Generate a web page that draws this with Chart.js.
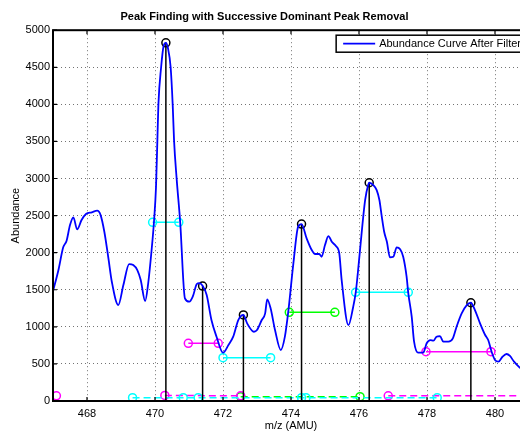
<!DOCTYPE html>
<html>
<head>
<meta charset="utf-8">
<script src="https://cdn.jsdelivr.net/npm/chart.js@4/dist/chart.umd.min.js"></script>
<style>
    html, body { margin: 0; padding: 0; background: #fff; overflow: hidden; }
    #wrap { position: relative; width: 540px; height: 431px; }
</style>
</head>
<body>
<div id="wrap"><canvas id="peakChart"></canvas></div>
<script>
// --- DATA ---
const mz = [467.00, 467.16, 467.30, 467.40, 467.50, 467.60, 467.71, 467.84, 467.97, 468.14,
            468.30, 468.40, 468.51, 468.63, 468.73, 468.92, 469.07, 469.24, 469.36, 469.48,
            469.58, 469.71, 469.80, 469.90, 469.97, 470.03, 470.07, 470.10, 470.18, 470.25,
            470.32, 470.38, 470.46, 470.52, 470.56, 470.64, 470.74, 470.88, 471.01, 471.11,
            471.23, 471.30, 471.40, 471.52, 471.66, 471.81, 472.00, 472.16, 472.30, 472.45,
            472.60, 472.71, 472.91, 473.00, 473.14, 473.24, 473.30, 473.40, 473.53, 473.70,
            473.82, 473.92, 474.07, 474.21, 474.31, 474.46, 474.61, 474.71, 474.83, 474.90,
            475.00, 475.10, 475.20, 475.32, 475.42, 475.49, 475.69, 475.83, 475.90, 475.96,
            476.03, 476.18, 476.27, 476.30, 476.42, 476.52, 476.60, 476.67, 476.74, 476.82,
            476.91, 477.01, 477.11, 477.21, 477.30, 477.40, 477.45, 477.55, 477.62, 477.74,
            477.89, 477.99, 478.10, 478.19, 478.28, 478.38, 478.48, 478.63, 478.76, 478.87,
            479.02, 479.17, 479.29, 479.41, 479.56, 479.71, 479.80, 479.90, 480.00, 480.10,
            480.22, 480.34, 480.44, 480.56, 480.72, 481.00];
const abundance = [1480, 1766, 2072, 2161, 2372, 2476, 2314, 2440, 2521, 2544,
                   2566, 2507, 2282, 1923, 1608, 1294, 1564, 1847, 1833, 1766,
                   1631, 1348, 1587, 2036, 2417, 2889, 3518, 4000, 4500, 4780,
                   4830, 4760, 4500, 4000, 3518, 2979, 2417, 1384, 1339, 1406,
                   1577, 1590, 1555, 1429, 1092, 867, 651, 755, 867, 1092,
                   1160, 1047, 934, 957, 1092, 1182, 1371, 1250, 957, 687,
                   867, 1204, 1856, 2350, 2386, 2193, 2036, 1982, 1982, 1945,
                   2103, 2224, 2147, 2089, 1991, 1631, 1024, 1271, 1450, 1700,
                   2036, 2710, 2912, 2943, 2912, 2844, 2710, 2485, 2282, 2147,
                   1937, 1945, 2072, 2045, 1945, 1676, 1452, 1137, 800, 651,
                   651, 778, 822, 813, 867, 876, 800, 800, 845, 1002,
                   1182, 1294, 1325, 1227, 1047, 890, 822, 665, 553, 530,
                   597, 634, 607, 530, 454, 350];

// dominant peaks (black stems)
const peakMz = [470.32, 471.40, 472.60, 474.31, 476.30, 479.29];
const peakAbundance = [4830, 1550, 1160, 2386, 2943, 1325];

// half-height width segments
const widthLeft  = [469.93, 470.98, 472.00, 473.95, 475.90, 477.97];
const widthRight = [470.70, 471.86, 473.40, 475.29, 477.45, 479.88];
const widthLevel = [2410, 778, 584, 1196, 1465, 665];

// baseline segments near zero (null = gap)
const cyanBaseMz = [469.34, 470.83, 471.27, 474.31, 474.44, 478.30];
const cyanBaseLevel = [45, 45, 45, 45, 45, 45];
const magentaBaseMz = [467.10, null, 470.29, 472.52, null, 476.86, 481.00];
const magentaBaseLevel = [70, null, 75, 70, null, 70, 70];
const greenBaseMz = [472.52, 476.03];
const greenBaseLevel = [58, 58];

const xTickValues = [468, 470, 472, 474, 476, 478, 480];

// --- STYLES ---
const FONT = "'Liberation Sans', Arial, Helvetica, sans-serif";
const BLUE = '#0000ff', CYAN = '#00ffff', MAGENTA = '#ff00ff', GREEN = '#00ff00';
const widthPalette = [CYAN, MAGENTA, CYAN, GREEN, CYAN, MAGENTA];

Chart.defaults.font.family = FONT;
Chart.defaults.font.size = 11;
Chart.defaults.color = '#000';

const toPoints = (xs, ys) => xs.map((x, i) => ({ x: x === null ? xs[i - 1] : x, y: ys[i] }));

const hollow = (color) => ({
    borderColor: color,
    pointBorderColor: color,
    pointBackgroundColor: 'rgba(0,0,0,0)',
    pointRadius: 4,
    pointBorderWidth: 1.5,
    pointHoverRadius: 4
});

const datasets = [];

// A. abundance curve
datasets.push({
    label: 'Abundance Curve After Filter',
    data: toPoints(mz, abundance),
    borderColor: BLUE,
    borderWidth: 1.8,
    pointRadius: 0,
    cubicInterpolationMode: 'monotone'
});

// B. stems from 0 up to each peak
const stemPoints = [];
peakMz.forEach((p, i) => {
    stemPoints.push({ x: p, y: 0 }, { x: p, y: peakAbundance[i] }, { x: p, y: null });
});
datasets.push({ data: stemPoints, borderColor: '#000', borderWidth: 1.5, pointRadius: 0, spanGaps: false });

// C. peak markers
datasets.push({ data: toPoints(peakMz, peakAbundance), showLine: false, ...hollow('#000') });

// D. half-height width segments
widthLeft.forEach((l, i) => {
    datasets.push({
        data: toPoints([l, widthRight[i]], [widthLevel[i], widthLevel[i]]),
        borderWidth: 1.5,
        ...hollow(widthPalette[i])
    });
});

// E. dashed baselines
[[cyanBaseMz, cyanBaseLevel, CYAN], [magentaBaseMz, magentaBaseLevel, MAGENTA], [greenBaseMz, greenBaseLevel, GREEN]]
    .forEach(([xs, ys, color]) => {
        datasets.push({
            data: toPoints(xs, ys),
            borderWidth: 1.5,
            borderDash: [7, 4],
            spanGaps: false,
            ...hollow(color)
        });
    });

// --- PLUGINS: box frame, inward ticks, boxed legend ---
const frameAndTicks = {
    id: 'frameAndTicks',
    afterDatasetsDraw(chart) {
        const { ctx, chartArea: a, scales } = chart;
        ctx.save();
        ctx.strokeStyle = '#000';
        ctx.lineWidth = 1.2;
        ctx.beginPath();
        scales.x.ticks.forEach(t => {
            const px = scales.x.getPixelForValue(t.value);
            ctx.moveTo(px, a.bottom); ctx.lineTo(px, a.bottom - 4);
            ctx.moveTo(px, a.top); ctx.lineTo(px, a.top + 4);
        });
        scales.y.ticks.forEach(t => {
            const py = scales.y.getPixelForValue(t.value);
            ctx.moveTo(a.left, py); ctx.lineTo(a.left + 4, py);
            ctx.moveTo(a.right, py); ctx.lineTo(a.right - 4, py);
        });
        ctx.stroke();
        ctx.lineWidth = 2;
        ctx.strokeRect(a.left, a.top, a.right - a.left, a.bottom - a.top);
        ctx.restore();
    }
};

const boxedLegend = {
    id: 'boxedLegend',
    afterDraw(chart) {
        const { ctx, chartArea: a } = chart;
        const ds = chart.data.datasets[0];
        ctx.save();
        ctx.font = '11px ' + FONT;
        const textW = ctx.measureText(ds.label).width;
        const w = 7 + 32 + 4 + textW + 5;
        const h = 17;
        const left = a.right - 3 - w;
        const top = a.top + 5;
        ctx.fillStyle = '#fff';
        ctx.fillRect(left, top, w, h);
        ctx.lineWidth = 1.5;
        ctx.strokeStyle = '#000';
        ctx.strokeRect(left, top, w, h);
        ctx.strokeStyle = ds.borderColor;
        ctx.lineWidth = ds.borderWidth;
        ctx.beginPath();
        ctx.moveTo(left + 7, top + h / 2);
        ctx.lineTo(left + 39, top + h / 2);
        ctx.stroke();
        ctx.fillStyle = '#000';
        ctx.textBaseline = 'middle';
        ctx.fillText(ds.label, left + 43, top + h / 2 + 0.5);
        ctx.restore();
    }
};

new Chart(document.getElementById('peakChart'), {
    type: 'line',
    data: { datasets },
    plugins: [frameAndTicks, boxedLegend],
    options: {
        responsive: true,
        maintainAspectRatio: false,
        animation: false,
        events: [],
        layout: { padding: { left: 0, right: 11, top: 0, bottom: 0 } },
        plugins: {
            legend: { display: false },
            tooltip: { enabled: false },
            title: {
                display: true,
                text: 'Peak Finding with Successive Dominant Peak Removal',
                color: '#000',
                font: { size: 11, weight: 'bold' },
                padding: { top: 10, bottom: 7 }
            }
        },
        scales: {
            x: {
                type: 'linear',
                min: 467,
                max: 481,
                afterFit: s => { s.height = 30; },
                afterBuildTicks: s => { s.ticks = xTickValues.map(v => ({ value: v })); },
                ticks: { padding: 6, color: '#000', maxRotation: 0, callback: v => String(v) },
                grid: { color: 'rgba(0,0,0,0.55)', lineWidth: 1, drawTicks: false },
                border: { display: false, dash: [1, 3] },
                title: {
                    display: true,
                    text: 'm/z (AMU)',
                    color: '#000',
                    font: { size: 11, lineHeight: 1 },
                    padding: { top: 0, bottom: 0 }
                }
            },
            y: {
                min: 0,
                max: 5000,
                afterFit: s => { s.width = 53; },
                ticks: { stepSize: 500, padding: 3, color: '#000', callback: v => String(v) },
                grid: { color: 'rgba(0,0,0,0.55)', lineWidth: 1, drawTicks: false },
                border: { display: false, dash: [1, 3] },
                title: {
                    display: true,
                    text: 'Abundance',
                    color: '#000',
                    font: { size: 11 },
                    padding: { top: 9, bottom: 0 }
                }
            }
        }
    }
});
</script>
</body>
</html>
